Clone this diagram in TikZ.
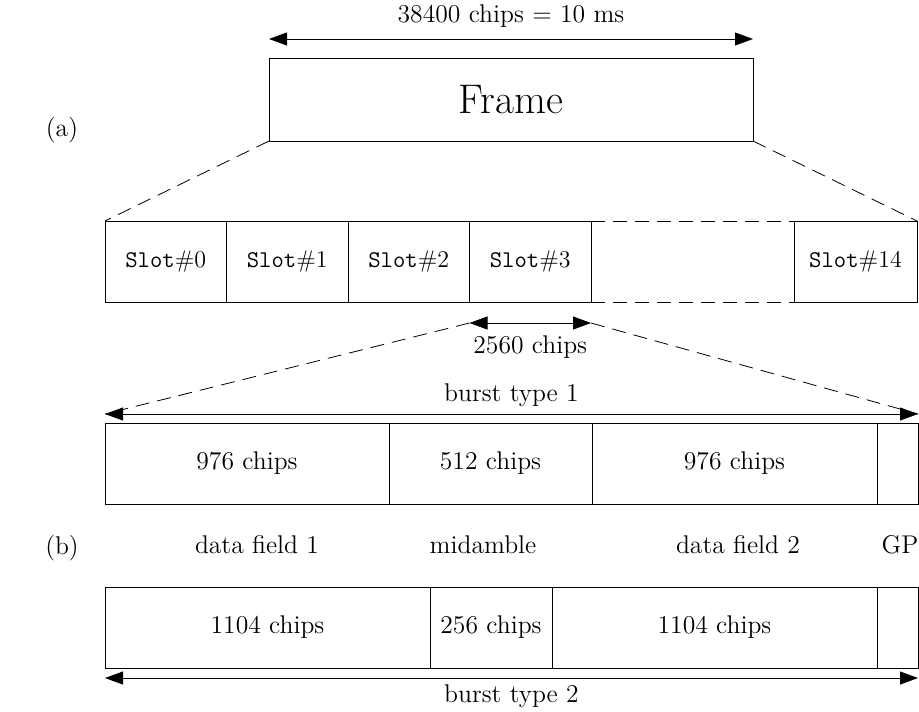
\documentclass[tikz,border=0pt]{standalone}
\usetikzlibrary{arrows.meta, positioning}

\begin{document}
\begin{tikzpicture}[
  x=0.5pt, y=-0.5pt,
  every node/.style={font=\fontsize{12.8pt}{15pt}\selectfont},
  cell/.style={draw, minimum height=40.5pt, inner sep=0pt, outer sep=0pt},
  slotcell/.style={cell, font=\large},
  span/.style={{Triangle[length=9pt,width=6.5pt]}-{Triangle[length=9pt,width=6.5pt]}},
  guide/.style={dash pattern=on 7pt off 4pt}
]
\useasboundingbox (0,0) rectangle (919,711);

% frame
\node[cell, anchor=north west, minimum width=242pt, minimum height=41.5pt, font=\fontsize{20.7pt}{25pt}\selectfont] (frame) at (269,58) {Frame};
\coordinate[above=9.5pt of frame.north west] (fl);
\coordinate[above=9.5pt of frame.north east] (fr);
\draw[span] (fl) -- node[above=2pt] {38400 chips = 10 ms} (fr);
\node (lbla) at (62,130) {(a)};

% slots
\node[slotcell, anchor=north west, minimum width=60.75pt] (slot0) at (105,221) {\texttt{Slot}\#0};
\foreach \i [count=\j from 0] in {1,2,3}
  \node[slotcell, minimum width=60.75pt, right=0pt of slot\j] (slot\i) {\texttt{Slot}\#\i};
\node[slotcell, anchor=north west, minimum width=61.5pt] (slot14) at (794,221) {\texttt{Slot}\#14};

\draw[guide] (frame.south west) -- (slot0.north west);
\draw[guide] (frame.south east) -- (slot14.north east);
\draw[guide] (slot3.north east) -- (slot14.north west);
\draw[guide] (slot3.south east) -- (slot14.south west);

\coordinate[below=10.5pt of slot3.south west] (sl);
\coordinate[below=10.5pt of slot3.south east] (sr);
\draw[span] (sl) -- node[below=3pt] {2560 chips} (sr);

% burst type 1
\node[cell, anchor=north west, minimum width=142pt] (a1) at (105,423) {976 chips};
\node[cell, right=0pt of a1, minimum width=101.5pt] (a2) {512 chips};
\node[cell, right=0pt of a2, minimum width=142.5pt] (a3) {976 chips};
\node[cell, right=0pt of a3, minimum width=20.5pt] (a4) {};

\coordinate[above=4.5pt of a1.north west] (al);
\coordinate[above=4.5pt of a4.north east] (ar);
\draw[span] (al) -- node[above] {burst type 1} (ar);
\draw[guide] (sl) -- (al);
\draw[guide] (sr) -- (ar);

% field names
\node (lblb) at (62,548) {(b)};
\node (f1) at (257,545) {data field 1};
\node (mid) at (483,545) {midamble};
\node (f2) at (738,545) {data field 2};
\node (gp) at (900,545) {GP};

% burst type 2
\node[cell, anchor=north west, minimum width=162.5pt] (b1) at (105,587) {1104 chips};
\node[cell, right=0pt of b1, minimum width=61pt] (b2) {256 chips};
\node[cell, right=0pt of b2, minimum width=162.5pt] (b3) {1104 chips};
\node[cell, right=0pt of b3, minimum width=20.5pt] (b4) {};

\coordinate[below=5pt of b1.south west] (bl);
\coordinate[below=5pt of b4.south east] (br);
\draw[span] (bl) -- node[below] {burst type 2} (br);
\end{tikzpicture}
\end{document}
